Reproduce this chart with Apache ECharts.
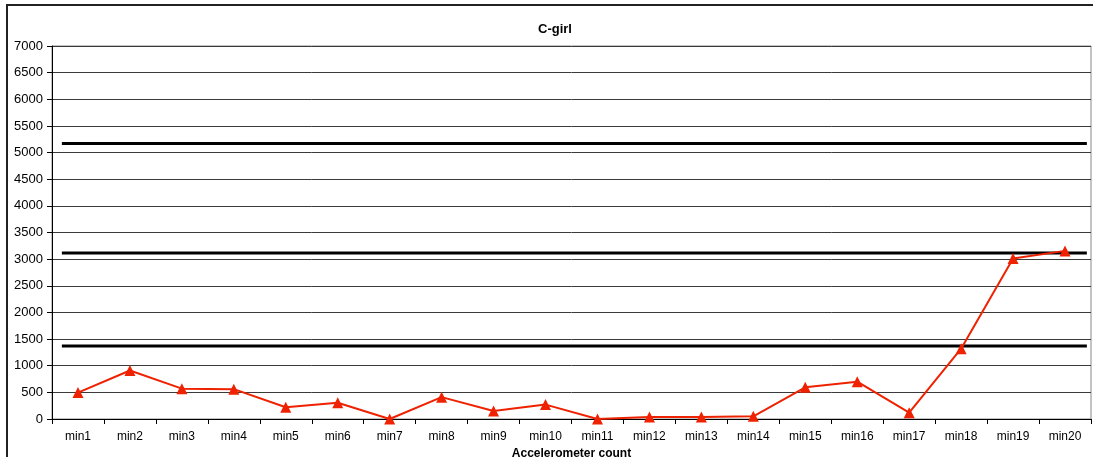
<!DOCTYPE html>
<html>
<head>
<meta charset="utf-8">
<script src="https://cdn.jsdelivr.net/npm/echarts@6/dist/echarts.min.js"></script>
<style>
html,body{margin:0;padding:0;background:#fff;}
#chart{width:1093px;height:457px;}
</style>
</head>
<body>
<div id="chart"></div>
<script>
// Minute-by-minute accelerometer counts
const categories = ['min1','min2','min3','min4','min5','min6','min7','min8','min9','min10',
  'min11','min12','min13','min14','min15','min16','min17','min18','min19','min20'];
const counts = [495, 910, 570, 560, 220, 305, 0, 410, 150, 270,
  0, 38, 38, 50, 595, 700, 118, 1320, 3010, 3155];
// Intensity cut-off levels (counts per minute)
const thresholds = [5170, 3115, 1370];
const thresholdSpan = [0.19, 19.92];
const yTicks = { min: 0, max: 7000, interval: 500 };

const chart = echarts.init(document.getElementById('chart'));
const font = 'Liberation Sans, Arial, sans-serif';

const thresholdSeries = thresholds.map(v => ({
  type: 'line',
  xAxisIndex: 1,
  data: thresholdSpan.map(x => [x, v]),
  symbol: 'none',
  lineStyle: { color: '#000', width: 3 },
  silent: true,
  z: 3
}));

chart.setOption({
  animation: false,
  title: {
    text: 'C-girl',
    left: 550,
    textAlign: 'center',
    top: 18,
    textStyle: { fontFamily: font, fontSize: 13, fontWeight: 'bold', color: '#000' }
  },
  grid: {
    left: 52, right: 2, top: 46, bottom: 38,
    outerBoundsMode: 'none', containLabel: false,
    show: true, borderColor: '#888', borderWidth: 1
  },
  xAxis: [{
    type: 'category',
    data: categories,
    boundaryGap: true,
    name: 'Accelerometer count',
    nameLocation: 'middle',
    nameGap: 20,
    nameTextStyle: { fontFamily: font, fontSize: 12, fontWeight: 'bold', color: '#000' },
    axisLine: { lineStyle: { color: '#000', width: 1 } },
    axisTick: { show: true, length: 5, lineStyle: { color: '#000' } },
    axisLabel: { fontFamily: font, fontSize: 12, color: '#000', margin: 12 },
    splitLine: { show: false }
  }, {
    type: 'value',
    min: 0,
    max: 20,
    show: false
  }],
  yAxis: {
    type: 'value',
    min: yTicks.min,
    max: yTicks.max,
    interval: yTicks.interval,
    axisLine: { show: true, lineStyle: { color: '#000', width: 1 } },
    axisTick: { show: true, length: 5, lineStyle: { color: '#000' } },
    axisLabel: { fontFamily: font, fontSize: 13, color: '#000', margin: 9, formatter: v => String(v) },
    splitLine: { show: true, lineStyle: { color: '#3a3a3a', width: 1 } }
  },
  series: [
    ...thresholdSeries,
    {
      type: 'line',
      data: counts,
      symbol: 'triangle',
      symbolSize: 11,
      itemStyle: { color: '#ee2200' },
      lineStyle: { color: '#ee2200', width: 2 },
      z: 4
    }
  ],
  graphic: [{
    type: 'rect',
    shape: { x: 7, y: 5, width: 1090, height: 460 },
    style: { fill: 'none', stroke: '#222', lineWidth: 2 },
    silent: true
  }]
});
</script>
</body>
</html>
